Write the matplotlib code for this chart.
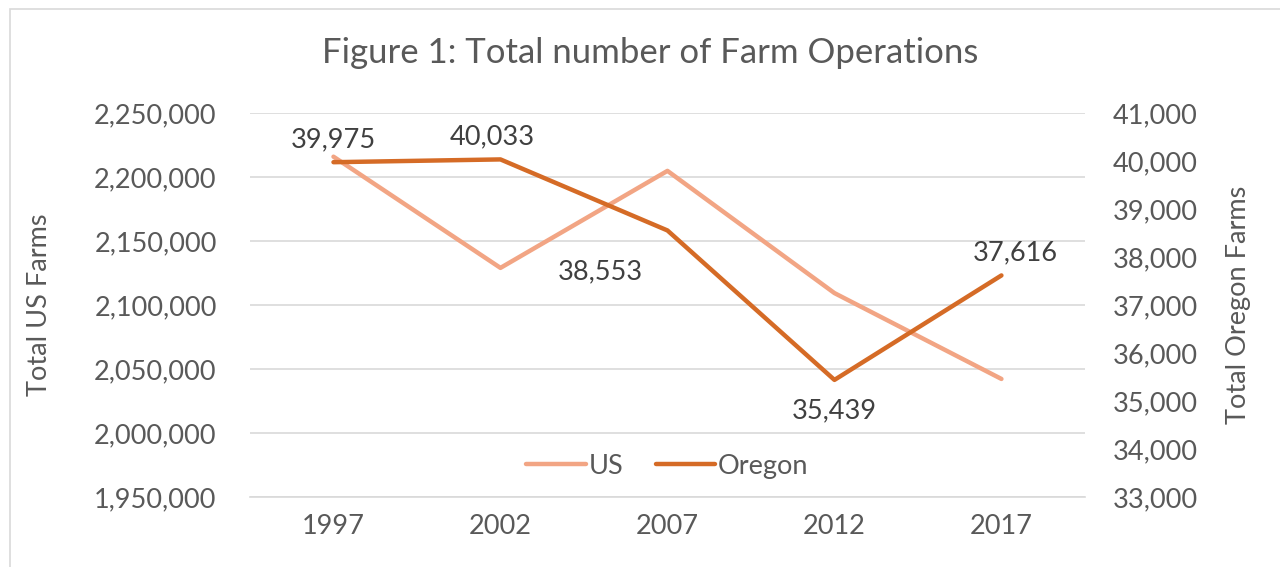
import matplotlib.pyplot as plt
import matplotlib.patches as mpatches
from matplotlib.ticker import FuncFormatter

plt.rcParams['font.family'] = ['Lato', 'DejaVu Sans']

years = ['1997', '2002', '2007', '2012', '2017']
us_farms = [2215876, 2128982, 2204792, 2109303, 2042220]
oregon_farms = [39975, 40033, 38553, 35439, 37616]

TEXT = '#595959'
US_COLOR = '#F2A584'
OR_COLOR = '#D56B26'
GRID = '#D9D9D9'
FS = 19.5

fig = plt.figure(figsize=(12.8, 5.67), dpi=100)
ax = fig.add_axes([0.1953, 0.1235, 0.6523, 0.6772])
ax2 = ax.twinx()

x = list(range(len(years)))
ax.plot(x, us_farms, color=US_COLOR, lw=3.2, solid_capstyle='round', label='US')
ax2.plot(x, oregon_farms, color=OR_COLOR, lw=3.2, solid_capstyle='round', label='Oregon')

ax.set_xlim(-0.5, 4.5)
ax.set_ylim(1950000, 2250000)
ax.set_yticks(range(1950000, 2250001, 50000))
ax2.set_ylim(33000, 41000)
ax2.set_yticks(range(33000, 41001, 1000))
ax.set_xticks(x)
ax.set_xticklabels(years)

fmt = FuncFormatter(lambda v, p: f'{int(v):,}')
ax.yaxis.set_major_formatter(fmt)
ax2.yaxis.set_major_formatter(fmt)

ax.grid(axis='y', color=GRID, lw=1.2)
ax.set_axisbelow(True)
for a in (ax, ax2):
    for s in a.spines.values():
        s.set_visible(False)
    a.tick_params(length=0, labelsize=FS, colors=TEXT)
ax.spines['bottom'].set_visible(True)
ax.spines['bottom'].set_color(GRID)
ax.spines['bottom'].set_linewidth(1.2)
ax.tick_params(axis='y', pad=24)
ax.tick_params(axis='x', pad=12)
ax2.tick_params(axis='y', pad=20)

ax.set_ylabel('Total US Farms', fontsize=FS, color=TEXT, labelpad=30)
ax2.set_ylabel('Total Oregon Farms', fontsize=FS, color=TEXT, labelpad=20)

# data labels for Oregon
offsets = [(0, 16), (-6, 16), (-48, -30), (0, -22), (10, 16)]
for xi, v, off in zip(x, oregon_farms, offsets):
    ax2.annotate(f'{v:,}', (xi, v), xytext=off, textcoords='offset points',
                 ha='center', va='center', fontsize=FS, color='#404040')

fig.suptitle('Figure 1: Total number of Farm Operations', fontsize=25,
             color=TEXT, y=0.935, x=0.508)

h1, l1 = ax.get_legend_handles_labels()
h2, l2 = ax2.get_legend_handles_labels()
ax2.legend(h1 + h2, l1 + l2, loc='center', bbox_to_anchor=(0.5, 0.08),
           ncol=2, frameon=False, fontsize=FS, labelcolor=TEXT,
           handlelength=2.2, handletextpad=0.1, columnspacing=1.2)

fig.patches.append(mpatches.Rectangle((0.008, -0.01), 1.1, 0.995,
                                      transform=fig.transFigure, fill=False,
                                      edgecolor=GRID, lw=1.2))

fig.savefig('out.png', dpi=100)
